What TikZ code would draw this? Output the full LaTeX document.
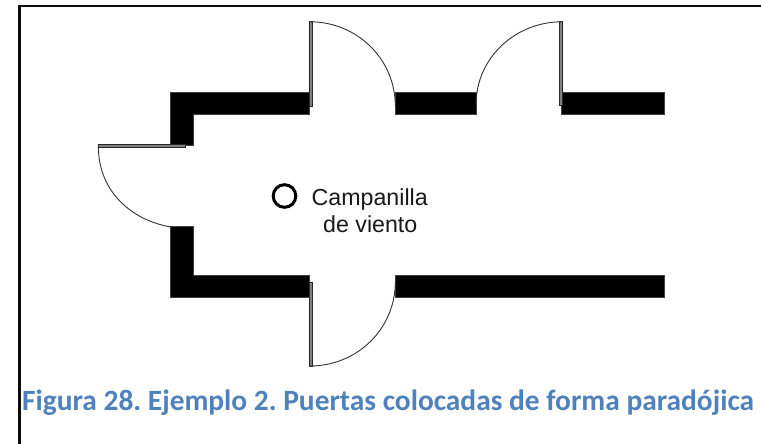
\documentclass[tikz,border=0pt]{standalone}
\usepackage{fontspec}
\setmainfont{Liberation Sans}
\newfontfamily\capfont{Carlito}
\definecolor{capblue}{HTML}{4F81BD}
\definecolor{leafgray}{HTML}{808080}
\tikzset{
  wall/.style={fill=black,draw=black!75,line width=0.5pt},
  leaf/.style={fill=leafgray,draw=black!85,line width=0.7pt},
  swing/.style={draw=black!80,line width=0.9pt},
  border/.style={draw=black!95,line width=2.6pt},
  lbl/.style={anchor=base,inner sep=0pt,font=\fontsize{23.2}{26}\selectfont,text=black!90},
  figcap/.style={anchor=base west,inner sep=0pt,font=\capfont\bfseries\fontsize{29.4}{32}\selectfont\frenchspacing,text=capblue}
}
\begin{document}
\begin{tikzpicture}[x=1pt,y=-1pt]
\useasboundingbox (0,0) rectangle (761,444);
\fill[white] (0,0) rectangle (761,444);
% page border
\draw[border] (19.5,444) -- (19.5,6) -- (761,6);
% walls
\fill[wall] (170.5,92.7) -- (309.3,92.7) -- (309.3,114) -- (193.5,114) -- (193.5,145) -- (170.5,145) -- cycle;
\fill[wall] (170.5,226.7) -- (193.5,226.7) -- (193.5,275.3) -- (309.3,275.3) -- (309.3,297.3) -- (170.5,297.3) -- cycle;
\fill[wall] (395.3,275.3) rectangle (664.6,297.3);
\fill[wall] (395.3,92.7) rectangle (476,114);
\fill[wall] (561.7,92.7) rectangle (664.6,114);
% door leaves
\filldraw[leaf] (309.6,21.8) rectangle (312.6,106);
\filldraw[leaf] (559.4,21.8) rectangle (562.4,105);
\filldraw[leaf] (309.6,282.8) rectangle (312.6,366);
\filldraw[leaf] (98.4,144.5) rectangle (185,147.5);
% door swings
\draw[swing] (310,21.8) .. controls (357,21.8) and (395.3,59) .. (395.3,106);
\draw[swing] (562,21.8) .. controls (515,21.8) and (476,58) .. (476,105);
\draw[swing] (310,366) .. controls (357,366) and (395.3,329) .. (395.3,282);
\draw[swing] (98.4,147) .. controls (98.4,190) and (130,220) .. (171,227);
% bell
\draw[black,line width=3pt] (284.5,196) circle (11.3);
\node[lbl,anchor=base west] (l1) at (311.5,205) {Campanilla};
\node[lbl,anchor=base west] (l2) at (323,232) {de viento};
\node[figcap] (cap) at (22,410.7) {Figura 28. Ejemplo 2. Puertas colocadas de forma paradójica};
\end{tikzpicture}
\end{document}
